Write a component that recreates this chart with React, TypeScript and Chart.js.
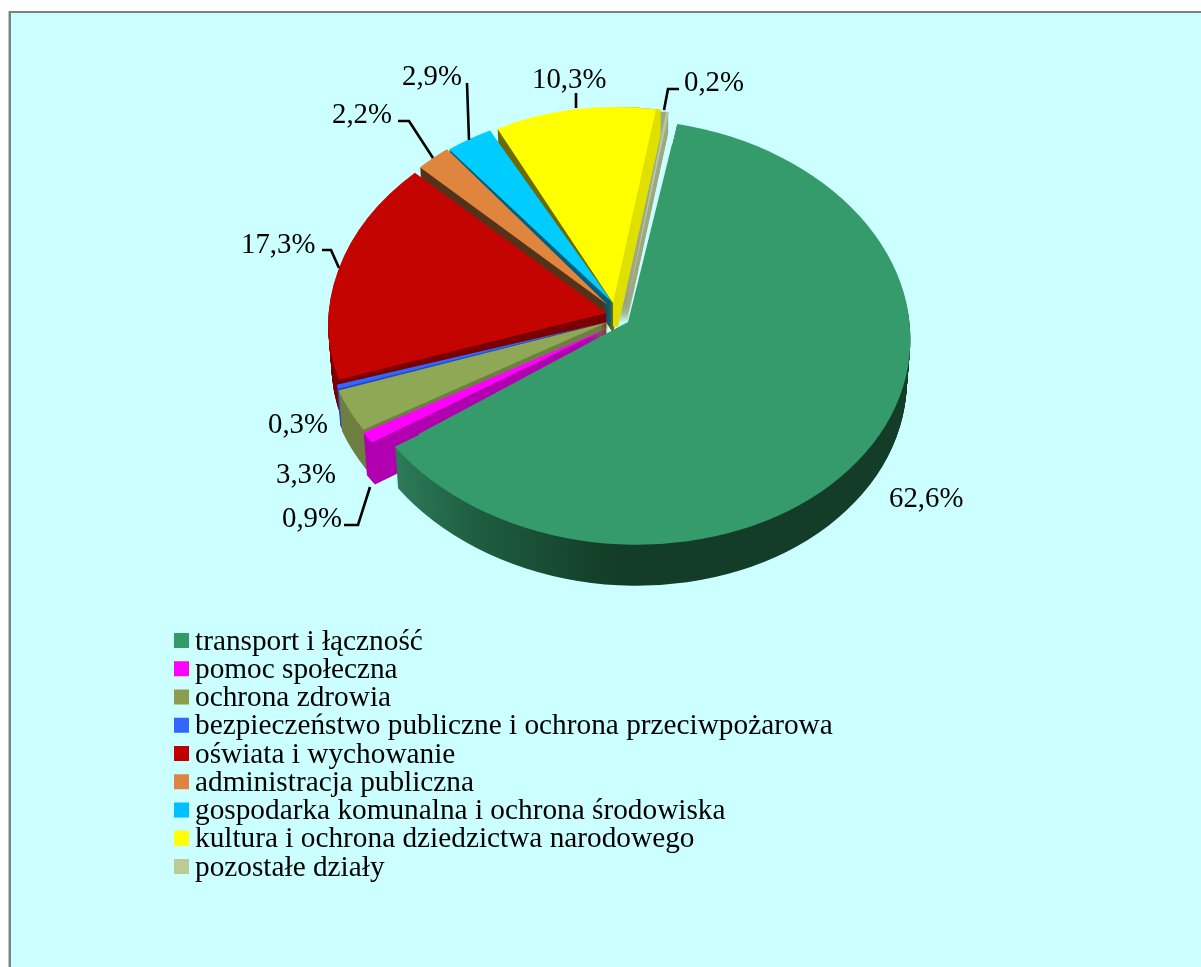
import React, { useEffect, useRef } from "react";
import { Chart, registerables } from "chart.js";

Chart.register(...registerables);

const categories = [
  "transport i łączność",
  "pomoc społeczna",
  "ochrona zdrowia",
  "bezpieczeństwo publiczne i ochrona przeciwpożarowa",
  "oświata i wychowanie",
  "administracja publiczna",
  "gospodarka komunalna i ochrona środowiska",
  "kultura i ochrona dziedzictwa narodowego",
  "pozostałe działy",
];
const shares = [62.6, 0.9, 3.3, 0.3, 17.3, 2.2, 2.9, 10.3, 0.2];
const shareLabels = ["62,6%", "0,9%", "3,3%", "0,3%", "17,3%", "2,2%", "2,9%", "10,3%", "0,2%"];
const topColors = ["#369B6B", "#FF00FF", "#8FA855", "#3366FF", "#C40400", "#DF853E", "#00CCFF", "#FFFF00", "#B3C9A0"];
const legendColors = ["#339966", "#FF00FF", "#8C9E4E", "#3366FF", "#C00000", "#DF8344", "#00BFFF", "#FFFF00", "#BBCB96"];
const wallColors = ["#133D28", "#B000B0", "#6F7F42", "#2448C0", "#7A0000", "#55321A", "#005F7A", "#6B6B00", "#A0A880"];

// projection of each slice on screen: ellipse centre, radii, optional shear, wall height
type Proj = { cx: number; cy: number; rx: number; ry: number; b?: number; c?: number; depth?: number };
const R = 280;
const projection: Proj[] = [
  { cx: 627.7, cy: 332, rx: 282.7, ry: 212.6, b: 5.4, c: 2, depth: 41 },
  { cx: 608, cy: 328, rx: 285, ry: 204, depth: 42 },
  { cx: 608, cy: 322, rx: 285, ry: 210, depth: 40 },
  { cx: 607, cy: 322, rx: 284, ry: 204, depth: 40 },
  { cx: 606.5, cy: 313, rx: 278, ry: 204.6, b: -4, c: -10.3, depth: 40 },
  { cx: 608, cy: 305, rx: 263, ry: 197, depth: 24 },
  { cx: 612, cy: 302, rx: 266, ry: 193, depth: 26 },
  { cx: 613, cy: 303, rx: 252, ry: 196, depth: 30 },
  { cx: 627, cy: 305, rx: 230, ry: 196, depth: 0 },
];
// second, smaller pass of the big slice, which brings its tip to where the picture has it
const greenTip: Proj = { cx: 628, cy: 322, rx: 255, ry: 178.5, b: -14.7, c: 2.4 };
const sideStrips: Record<number, { dx: number; dy: number; color: string; clipX: number }> = {
  7: { dx: 5, dy: 24, color: "#E0E000", clipX: 613 },
  8: { dx: -8, dy: 20, color: "#A0A880", clipX: 0 },
};
const drawOrder = [8, 7, 6, 5, 4, 3, 2, 1, 0];

const labelLayout = [
  { x: 889, y: 499, line: [] as number[][] },
  { x: 282, y: 519, line: [[344, 525], [358, 525], [370, 487]] },
  { x: 276, y: 475, line: [] as number[][] },
  { x: 268, y: 425, line: [] as number[][] },
  { x: 241, y: 245, line: [[322, 250], [331, 250], [339, 268]] },
  { x: 332, y: 115, line: [[398, 121], [409, 121], [433, 158]] },
  { x: 402, y: 77, line: [[467, 83], [469, 140]] },
  { x: 532, y: 80, line: [[576, 93], [576, 108]] },
  { x: 684, y: 83, line: [[679, 89], [668, 89], [664, 110]] },
];
const legendBox = { x: 174, y: 633, size: 15, textX: 195, pitch: 28.25, baseline: 16.5 };
const FONT_LABEL = '28.8px "Liberation Serif"';
const FONT_LEGEND = '29.3px "Liberation Serif"';

const pie3d = {
  id: "pie3d",
  beforeDraw(chart: any) {
    const { ctx, width, height } = chart;
    ctx.save();
    ctx.fillStyle = "#FFFFFF";
    ctx.fillRect(0, 0, width, height);
    ctx.fillStyle = "#C0C0C0";
    ctx.fillRect(8, 11, 1, height);
    ctx.fillStyle = "#808080";
    ctx.fillRect(9, 11, 2, height);
    ctx.fillRect(9, 11, width, 2);
    ctx.fillStyle = "#CCFFFF";
    ctx.fillRect(11, 13, width, height);
    ctx.restore();
  },
  beforeDatasetsDraw(chart: any) {
    const { ctx, width, height } = chart;
    const arcs = chart.getDatasetMeta(0).data;
    const paint = (i: number, color: any, dx: number, dy: number, shrink: number, pr?: Proj) => {
      const arc = arcs[i];
      const p = pr || projection[i];
      const orig = arc.options;
      const patched = Object.create(orig);
      patched.backgroundColor = color;
      arc.options = patched;
      ctx.save();
      ctx.transform(
        (p.rx / R) * shrink,
        (p.b || 0) / R,
        ((p.c || 0) / R) * shrink,
        p.ry / R,
        p.cx + dx,
        p.cy + dy
      );
      ctx.translate(-arc.x, -arc.y);
      arc.draw(ctx);
      ctx.restore();
      arc.options = orig;
    };
    const g = projection[0];
    const ux = (x: number) => arcs[0].x + ((x - g.cx) * R) / g.rx;
    const sideGrad = ctx.createLinearGradient(ux(397), 0, ux(610), 0);
    sideGrad.addColorStop(0, "#2C7A57");
    sideGrad.addColorStop(0.35, "#1F5E40");
    sideGrad.addColorStop(1, wallColors[0]);

    for (const i of drawOrder) {
      const depth = projection[i].depth || 0;
      for (let d = depth; d >= 1; d--) {
        paint(i, i === 0 ? sideGrad : wallColors[i], 0, d, 1 - (0.012 * d) / 40);
      }
      const strip = sideStrips[i];
      if (strip) {
        ctx.save();
        ctx.beginPath();
        ctx.rect(strip.clipX, 0, width, height);
        ctx.clip();
        const n = Math.abs(strip.dx) * 2;
        for (let d = strip.dy; d >= 0; d -= 2) {
          for (let s = 1; s <= n; s++) paint(i, strip.color, (strip.dx * s) / n, d, 1);
        }
        ctx.restore();
      }
    }
    for (const i of drawOrder) paint(i, topColors[i], 0, 0, 1);
    paint(0, topColors[0], 0, 0, 1, greenTip);
    return false;
  },
  afterDraw(chart: any) {
    const { ctx } = chart;
    ctx.save();
    ctx.fillStyle = "#000000";
    ctx.strokeStyle = "#000000";
    ctx.lineWidth = 2.6;
    ctx.lineJoin = "miter";
    ctx.textBaseline = "middle";
    ctx.textAlign = "left";
    ctx.font = FONT_LABEL;
    shareLabels.forEach((text, i) => {
      const l = labelLayout[i];
      ctx.fillText(text, l.x, l.y);
      if (l.line.length) {
        ctx.beginPath();
        l.line.forEach(([x, y], k) => (k ? ctx.lineTo(x, y) : ctx.moveTo(x, y)));
        ctx.stroke();
      }
    });
    ctx.font = FONT_LEGEND;
    ctx.textBaseline = "alphabetic";
    categories.forEach((text, i) => {
      const y = legendBox.y + i * legendBox.pitch;
      ctx.fillStyle = legendColors[i];
      ctx.fillRect(legendBox.x, y, legendBox.size, legendBox.size);
      ctx.fillStyle = "#000000";
      ctx.fillText(text, legendBox.textX, y + legendBox.baseline);
    });
    ctx.restore();
  },
};

export default function App() {
  const ref = useRef<HTMLCanvasElement>(null);
  useEffect(() => {
    const chart = new Chart(ref.current!, {
      type: "pie",
      data: {
        labels: categories,
        datasets: [{ data: shares, backgroundColor: topColors, borderWidth: 0 }],
      },
      options: {
        animation: false,
        responsive: false,
        devicePixelRatio: 1,
        rotation: 10.5,
        radius: R,
        plugins: { legend: { display: false }, tooltip: { enabled: false } },
      },
      plugins: [pie3d],
    } as any);
    return () => chart.destroy();
  }, []);
  return (
    <canvas
      ref={ref}
      width={1201}
      height={967}
      style={{ position: "absolute", left: 0, top: 0, display: "block" }}
    />
  );
}
